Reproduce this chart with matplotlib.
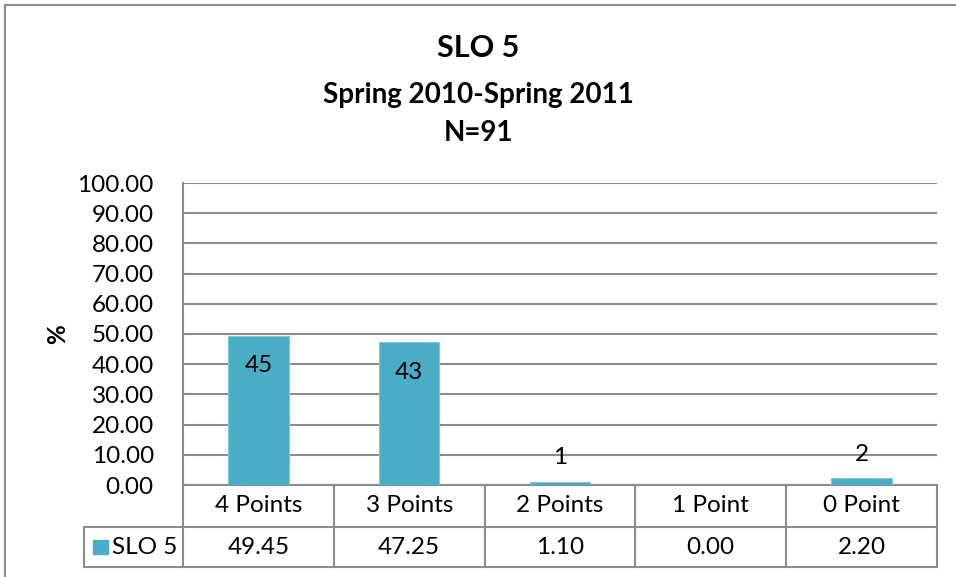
import numpy as np
import matplotlib
matplotlib.use('Agg')
import matplotlib.pyplot as plt
from matplotlib.patches import Rectangle

plt.rcParams['font.family'] = ['Lato', 'DejaVu Sans']

# data
categories = ['4 Points', '3 Points', '2 Points', '1 Point', '0 Point']
percent = [49.45, 47.25, 1.10, 0.00, 2.20]
counts = [45, 43, 1, None, 2]
series = 'SLO 5'
yticks = np.arange(0, 101, 10)

barcol = '#4BACC6'
gridcol = '#8c8c8c'
fs = 17.5

W, H = 956, 577
fig = plt.figure(figsize=(W/100., H/100.), dpi=100)

# plot area in pixels: x 183-937, y 183-485
l, r, t, b = 183, 937, 183, 485
ax = fig.add_axes([l/W, 1-b/H, (r-l)/W, (b-t)/H])

x = np.arange(len(categories))
ax.bar(x, percent, width=0.4, color=barcol, edgecolor='#7fc6d8', lw=0.8, zorder=3)
ax.set_xlim(-0.5, len(categories)-0.5)
ax.set_ylim(0, 100)
ax.set_yticks(yticks)
ax.set_yticklabels(['%.2f' % v for v in yticks], fontsize=fs)
ax.tick_params(axis='y', length=0, pad=21)
ax.set_xticks([])
ax.grid(axis='y', color=gridcol, lw=1.5, zorder=0)
for s in ['top', 'right', 'bottom']:
    ax.spines[s].set_visible(False)
ax.spines['left'].set_color(gridcol)
ax.spines['left'].set_linewidth(1.5)
ax.set_ylabel('%', fontsize=fs, fontweight='bold', labelpad=6)

# data labels (counts)
for xi, p, c in zip(x, percent, counts):
    if c is None:
        continue
    if p > 10:
        ax.text(xi, p - 10, str(c), ha='center', va='center', fontsize=fs, zorder=4)
    else:
        ax.text(xi, p + 8, str(c), ha='center', va='center', fontsize=fs, zorder=4)

# data table under the axis
row1 = -42/302.
row2 = -82/302.
trans = ax.get_xaxis_transform()
x0 = -0.5
x1 = len(categories) - 0.5
xleg = -0.5 - 99/150.8
kw = dict(color=gridcol, lw=1.5, transform=trans, clip_on=False)
ax.plot([x0, x1], [0, 0], **kw)
ax.plot([x0, x1], [row1, row1], **kw)
ax.plot([xleg, x0], [row1, row1], **kw)
ax.plot([xleg, x1], [row2, row2], **kw)
ax.plot([xleg, xleg], [row1, row2], **kw)
for i in range(len(categories)+1):
    ax.plot([x0+i, x0+i], [0, row2], **kw)
for xi, cat, p in zip(x, categories, percent):
    ax.text(xi, row1/2, cat, ha='center', va='center', fontsize=fs, transform=trans)
    ax.text(xi, (row1+row2)/2, '%.2f' % p, ha='center', va='center', fontsize=fs, transform=trans)

# legend key in the table
ax.add_patch(Rectangle((xleg + 9/150.8, (row1+row2)/2 - 7/302.), 15/150.8, 14/302.,
                       transform=trans, color=barcol, clip_on=False))
ax.text(xleg + 28/150.8, (row1+row2)/2, series, ha='left', va='center', fontsize=fs, transform=trans)

# titles
fig.text(0.5, 1-48/H, 'SLO 5', ha='center', va='center', fontsize=22, fontweight='bold')
fig.text(0.5, 1-95/H, 'Spring 2010-Spring 2011', ha='center', va='center', fontsize=20, fontweight='bold')
fig.text(0.5, 1-133/H, 'N=91', ha='center', va='center', fontsize=20, fontweight='bold')

# outer chart border
fig.add_artist(Rectangle((5/W, -0.01), 1.0, 1-5/H+0.01, transform=fig.transFigure,
                         fill=False, edgecolor='#8c8c8c', lw=1.5))

fig.savefig('out.png', dpi=100)
